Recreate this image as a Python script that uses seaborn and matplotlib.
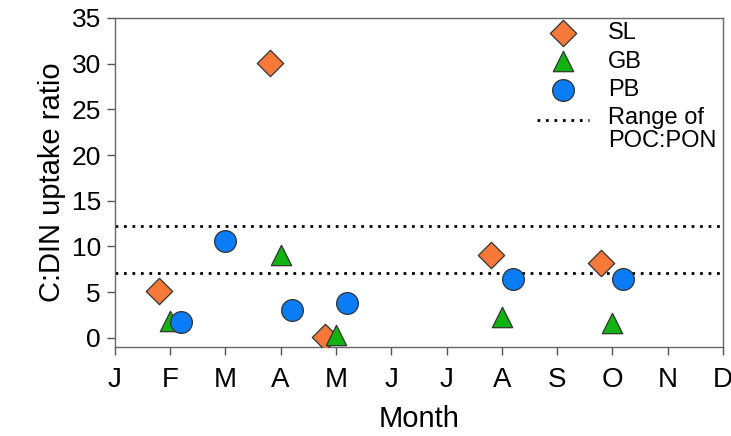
import numpy as np
import pandas as pd
import seaborn as sns
import matplotlib.pyplot as plt
from matplotlib.legend_handler import HandlerLine2D

# month index: 0 = Jan ... 11 = Dec (stations offset slightly around each month)
sl_month = [0.8, 2.8, 3.8, 6.8, 8.8]
sl_ratio = [5.1, 30.1, 0.1, 9.1, 8.2]

gb_month = [1.0, 3.0, 4.0, 7.0, 9.0]
gb_ratio = [1.8, 9.1, 0.3, 2.3, 1.6]

pb_month = [1.2, 2.0, 3.2, 4.2, 7.2, 9.2]
pb_ratio = [1.7, 10.65, 3.1, 3.8, 6.45, 6.4]

poc_pon_range = [7.1, 12.2]

month_labels = ["J", "F", "M", "A", "M", "J", "J", "A", "S", "O", "N", "D"]


class TopLineHandler(HandlerLine2D):
    # put the dotted sample next to the first line of a two-line label
    def create_artists(self, legend, orig_handle, xdescent, ydescent, width,
                       height, fontsize, trans):
        return super().create_artists(legend, orig_handle, xdescent, ydescent - 14,
                                      width, height, fontsize, trans)


sns.set_style("ticks")
plt.rcParams['font.family'] = ['Liberation Sans', 'DejaVu Sans']
plt.rcParams['text.color'] = 'black'
plt.rcParams['axes.labelcolor'] = 'black'
plt.rcParams['xtick.labelcolor'] = 'black'
plt.rcParams['ytick.labelcolor'] = 'black'

fig = plt.figure(figsize=(7.31, 4.36), dpi=100)
ax = fig.add_axes([0.157, 0.204, 0.832, 0.755])

# name, x, y, marker, colour, marker area (pt^2)
stations = [
    ("SL", sl_month, sl_ratio, "D", "#F7793A", 180),
    ("GB", gb_month, gb_ratio, "^", "#11B311", 215),
    ("PB", pb_month, pb_ratio, "o", "#0A7CF5", 245),
]
for name, xs, ys, mk, col, area in stations:
    df = pd.DataFrame({"month": xs, "ratio": ys})
    sns.scatterplot(data=df, x="month", y="ratio", marker=mk, color=col, s=area,
                    edgecolor="#333333", linewidth=0.9, ax=ax, label=name, zorder=3)

range_line = None
for i, yv in enumerate(poc_pon_range):
    ln = ax.axhline(yv, color="black", linestyle=(0, (1, 2.05)), linewidth=2,
                    label="Range of\nPOC:PON" if i == 0 else None, zorder=2)
    if i == 0:
        range_line = ln

ax.set_xlim(0, 11)
ax.set_ylim(-1, 35)
ax.set_xticks(range(12))
ax.set_xticklabels(month_labels, fontsize=20)
ax.set_yticks(range(0, 36, 5))
ax.tick_params(axis="y", labelsize=19, length=6, width=1, color="#555555", pad=4)
ax.tick_params(axis="x", length=6, width=1, color="#555555", pad=8)
for sp in ax.spines.values():
    sp.set_color("#666666")
    sp.set_linewidth(1)

ax.set_xlabel("Month", fontsize=21, labelpad=9)
ax.set_ylabel("C:DIN uptake ratio", fontsize=21, labelpad=4)

leg = ax.legend(loc="upper right", bbox_to_anchor=(1.013, 1.03), frameon=False,
                fontsize=17, handlelength=2.2, labelspacing=0.27, handletextpad=0.8,
                borderaxespad=0.2, handler_map={range_line: TopLineHandler()})
leg.get_texts()[-1].set_linespacing(1.05)

plt.savefig("out.png", dpi=100)
plt.close()
